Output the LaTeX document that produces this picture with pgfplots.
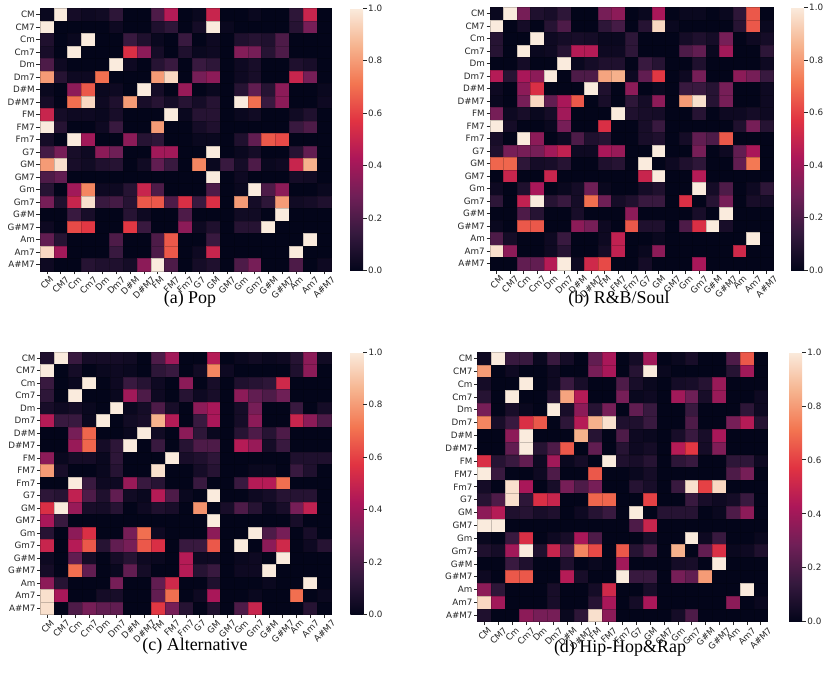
\documentclass[border=0pt]{standalone}
\usepackage{graphicx}
\usepackage{fontspec}
\setmainfont{DejaVu Sans}
\newfontfamily\capfont{Liberation Serif}
\usepackage{pgfplots}
\usepackage{pgfplotstable}
\pgfplotsset{compat=1.18}

\pgfplotsset{colormap={rocket}{rgb255=(3,5,26) rgb255=(53,25,62) rgb255=(112,31,87) rgb255=(173,23,89) rgb255=(225,51,66) rgb255=(243,118,81) rgb255=(246,180,143) rgb255=(250,235,221)}}

\newcommand\rl[1]{\rotatebox{45}{#1}}

% Pop
\pgfplotstableread[row sep=\\, header=false]{
0.02\\1.0\\0.05\\0.03\\0.04\\0.12\\0\\0\\0.2\\0.45\\0\\0.02\\0.5\\0\\0\\0.02\\0\\0\\0.12\\0.5\\0\\
1.0\\0\\0\\0\\0\\0.03\\0\\0\\0.08\\0.12\\0\\0.05\\1.0\\0.02\\0\\0\\0\\0\\0.1\\0.3\\0\\
0.08\\0\\0.02\\1.0\\0\\0\\0.15\\0.08\\0.02\\0\\0.15\\0\\0.03\\0\\0.08\\0.1\\0.08\\0.2\\0\\0\\0\\
0.06\\0\\1.0\\0\\0\\0\\0.55\\0.35\\0.05\\0\\0.08\\0.02\\0.03\\0\\0.33\\0.3\\0.1\\0.2\\0\\0\\0\\
0.2\\0.03\\0\\0\\0\\1.0\\0.03\\0\\0.1\\0.15\\0\\0.15\\0.12\\0\\0.03\\0.06\\0\\0\\0.08\\0.06\\0\\
0.8\\0.1\\0.03\\0.03\\0.7\\0\\0\\0\\0.8\\0.95\\0\\0.3\\0.35\\0\\0.03\\0.06\\0\\0\\0.5\\0.3\\0\\
0.02\\0\\0.35\\0.65\\0.02\\0.03\\0\\1.0\\0.05\\0\\0.38\\0\\0.02\\0\\0.1\\0.25\\0.1\\0.35\\0\\0\\0.02\\
0.05\\0\\0.7\\0.95\\0.03\\0.08\\0.8\\0.06\\0.1\\0.05\\0.1\\0.05\\0.1\\0\\1.0\\0.7\\0.15\\0.35\\0\\0\\0.03\\
0.5\\0.05\\0.03\\0.03\\0.02\\0.06\\0\\0\\0\\1.0\\0.02\\0.1\\0.1\\0\\0.02\\0.04\\0\\0\\0.04\\0.08\\0\\
1.0\\0.1\\0\\0\\0.03\\0.15\\0\\0\\0.8\\0\\0\\0.05\\0.08\\0\\0\\0\\0\\0\\0.15\\0.2\\0\\
0.05\\0\\1.0\\0.4\\0\\0\\0.35\\0.1\\0.12\\0\\0\\0.02\\0.02\\0\\0.08\\0.25\\0.65\\0.62\\0\\0\\0\\
0.18\\0.3\\0.06\\0.03\\0.35\\0.28\\0\\0\\0.4\\0.4\\0\\0\\1.0\\0\\0.02\\0.05\\0\\0\\0.1\\0.25\\0\\
0.8\\0.97\\0.06\\0.04\\0.08\\0.1\\0\\0.04\\0.25\\0.15\\0\\0.75\\0.02\\0.15\\0.05\\0.2\\0.02\\0.03\\0.5\\0.85\\0\\
0.2\\0.25\\0\\0\\0\\0\\0\\0\\0\\0\\0\\0\\1.0\\0\\0.03\\0\\0\\0\\0.05\\0.04\\0\\
0.1\\0\\0.4\\0.75\\0.03\\0.03\\0.1\\0.5\\0.2\\0\\0\\0\\0.2\\0\\0.02\\1.0\\0.2\\0.35\\0\\0\\0.02\\
0.3\\0.08\\0.5\\0.97\\0.15\\0.18\\0.1\\0.65\\0.65\\0.2\\0.55\\0.15\\0.55\\0\\0.8\\0.05\\0.12\\0.8\\0.04\\0.05\\0.08\\
0\\0\\0.15\\0.06\\0\\0\\0.1\\0.03\\0\\0\\0.2\\0\\0\\0\\0.04\\0.04\\0\\1.0\\0\\0\\0\\
0.03\\0\\0.62\\0.58\\0\\0\\0.58\\0.15\\0\\0\\0.35\\0.03\\0.08\\0\\0.1\\0.1\\1.0\\0\\0\\0\\0\\
0.25\\0.1\\0\\0\\0\\0.2\\0\\0\\0.2\\0.65\\0\\0\\0.15\\0\\0\\0\\0\\0\\0\\1.0\\0\\
0.95\\0.4\\0\\0\\0\\0.15\\0\\0\\0.2\\0.65\\0\\0.03\\0.5\\0\\0\\0\\0\\0\\1.0\\0\\0\\
0.03\\0\\0\\0.1\\0.08\\0.08\\0.05\\0.35\\1.0\\0.2\\0\\0.05\\0.08\\0\\0.2\\0.3\\0\\0\\0.2\\0\\0.03\\
}\popdata

% R&B
\pgfplotstableread[row sep=\\, header=false]{
0.02\\1.0\\0.3\\0.08\\0.06\\0.12\\0\\0\\0.3\\0.35\\0\\0.02\\0.42\\0\\0.02\\0.02\\0\\0.02\\0.12\\0.65\\0\\
1.0\\0\\0.05\\0\\0.1\\0.2\\0\\0\\0.12\\0.18\\0\\0.1\\0.95\\0.02\\0\\0\\0\\0\\0.1\\0.65\\0.02\\
0.1\\0\\0\\1.0\\0.03\\0.05\\0.06\\0.05\\0.02\\0.02\\0.12\\0\\0\\0\\0.05\\0.08\\0.05\\0.3\\0\\0.03\\0.05\\
0.1\\0\\1.0\\0.02\\0.03\\0.1\\0.45\\0.45\\0.03\\0.03\\0.12\\0\\0\\0\\0.2\\0.25\\0.02\\0.4\\0\\0\\0.12\\
0\\0\\0.05\\0\\0\\1.0\\0.02\\0.05\\0.08\\0.08\\0\\0.15\\0.1\\0\\0\\0.08\\0\\0\\0\\0\\0.03\\
0.45\\0.1\\0.42\\0.35\\1.0\\0\\0.2\\0.2\\0.82\\0.85\\0.03\\0.25\\0.58\\0\\0.03\\0.3\\0\\0\\0.35\\0.3\\0.15\\
0.03\\0\\0.35\\0.55\\0\\0\\0\\1.0\\0.08\\0\\0.35\\0\\0.02\\0\\0.15\\0.15\\0.1\\0.3\\0\\0\\0.03\\
0.02\\0\\0.3\\0.95\\0.25\\0.42\\0.65\\0\\0.06\\0\\0.12\\0.05\\0.35\\0\\0.8\\0.97\\0.1\\0.3\\0\\0\\0.03\\
0.3\\0.03\\0.06\\0.02\\0.05\\0.4\\0\\0\\0\\1.0\\0.08\\0.06\\0.05\\0\\0\\0.1\\0\\0.03\\0.03\\0.05\\0.03\\
1.0\\0.05\\0\\0\\0.02\\0.3\\0\\0\\0.55\\0\\0\\0.06\\0.15\\0\\0\\0\\0\\0\\0.08\\0.3\\0.1\\
0.06\\0\\1.0\\0.35\\0\\0.03\\0.2\\0.08\\0.1\\0\\0\\0.06\\0.08\\0\\0.05\\0.25\\0.2\\0.65\\0\\0\\0\\
0.08\\0.3\\0.3\\0.3\\0.4\\0.48\\0.03\\0.03\\0.42\\0.38\\0\\0\\1.0\\0\\0\\0.3\\0\\0.03\\0.25\\0.42\\0\\
0.68\\0.68\\0.12\\0.05\\0.06\\0.1\\0\\0\\0.08\\0.1\\0\\1.0\\0\\0.03\\0.08\\0.12\\0\\0\\0.25\\0.72\\0\\
0\\0.5\\0\\0\\0.5\\0\\0\\0\\0\\0\\0\\0.5\\1.0\\0\\0\\0.45\\0\\0\\0\\0\\0\\
0.03\\0\\0.08\\0.42\\0\\0.02\\0.05\\0.28\\0.02\\0\\0\\0.05\\0.08\\0\\0\\1.0\\0.05\\0.2\\0\\0.03\\0.12\\
0.12\\0\\0.48\\1.0\\0.1\\0.15\\0.05\\0.7\\0.28\\0.05\\0.08\\0.15\\0.15\\0\\0.55\\0\\0.1\\0.3\\0\\0.06\\0.05\\
0\\0\\0.2\\0.1\\0\\0\\0.06\\0\\0\\0\\0.35\\0\\0\\0\\0\\0.06\\0\\1.0\\0\\0\\0\\
0.02\\0\\0.65\\0.65\\0\\0\\0.35\\0.3\\0.03\\0\\0.65\\0.08\\0.08\\0\\0.2\\0.55\\1.0\\0.06\\0\\0\\0\\
0.2\\0.05\\0\\0\\0.03\\0.15\\0\\0\\0.03\\0.48\\0\\0\\0.02\\0\\0\\0\\0\\0\\0\\1.0\\0\\
0.97\\0.35\\0\\0\\0.03\\0.1\\0\\0\\0.05\\0.48\\0\\0.02\\0.35\\0\\0\\0\\0\\0\\0.52\\0\\0\\
0\\0\\0.25\\0.25\\0.45\\1.0\\0.03\\0.52\\0.62\\0\\0\\0.05\\0\\0\\0\\0.42\\0\\0\\0\\0\\0\\
}\rbdata

% Alternative
\pgfplotstableread[row sep=\\, header=false]{
0.08\\1.0\\0.15\\0.05\\0.05\\0.05\\0.04\\0\\0.2\\0.4\\0\\0\\0.45\\0\\0.02\\0.04\\0.02\\0.03\\0.1\\0.35\\0.04\\
1.0\\0\\0.05\\0\\0.02\\0.03\\0.02\\0\\0.12\\0.15\\0\\0.04\\0.75\\0.03\\0\\0\\0\\0\\0.08\\0.35\\0\\
0.15\\0\\0.02\\1.0\\0\\0.03\\0.15\\0.1\\0.03\\0\\0.35\\0\\0.06\\0\\0.08\\0.1\\0.12\\0.52\\0\\0\\0\\
0.12\\0\\1.0\\0\\0\\0.02\\0.4\\0.2\\0.03\\0\\0.1\\0.03\\0.06\\0\\0.35\\0.25\\0.2\\0.28\\0\\0\\0\\
0.06\\0.03\\0.05\\0.02\\0\\1.0\\0.02\\0.05\\0.2\\0.06\\0\\0.35\\0.42\\0\\0.05\\0.3\\0\\0\\0.15\\0\\0.05\\
0.45\\0.15\\0.15\\0.02\\1.0\\0\\0.04\\0.06\\0.85\\0.45\\0\\0.15\\0.42\\0\\0.05\\0.35\\0\\0\\0.5\\0.35\\0.2\\
0\\0\\0.3\\0.68\\0\\0\\0.02\\1.0\\0.04\\0\\0.35\\0.12\\0.02\\0\\0.1\\0.2\\0.1\\0.2\\0\\0\\0\\
0\\0\\0.38\\0.68\\0.05\\0.12\\1.0\\0\\0.15\\0\\0.1\\0.2\\0.2\\0\\0.45\\0.38\\0.05\\0.15\\0\\0\\0\\
0.35\\0.02\\0.05\\0.05\\0.02\\0.12\\0\\0\\0\\1.0\\0.06\\0.08\\0.12\\0\\0\\0\\0\\0\\0.08\\0.08\\0.08\\
0.8\\0.06\\0\\0\\0.02\\0.1\\0\\0\\0.97\\0\\0\\0.05\\0.1\\0\\0\\0.02\\0.02\\0\\0.15\\0.08\\0\\
0\\0\\1.0\\0.15\\0.03\\0.03\\0.38\\0.15\\0.1\\0\\0\\0.15\\0\\0\\0.15\\0.45\\0.45\\0.7\\0\\0\\0\\
0.12\\0.1\\0.48\\0.2\\0.08\\0.25\\0.04\\0.02\\0.45\\0.2\\0.02\\0\\1.0\\0\\0\\0.03\\0.05\\0.1\\0.1\\0.1\\0\\
0.55\\1.0\\0.38\\0.06\\0.05\\0.1\\0\\0.03\\0.08\\0.06\\0\\0.78\\0\\0.06\\0.2\\0.1\\0.02\\0.06\\0.3\\0.48\\0\\
0.42\\0.15\\0\\0\\0\\0\\0\\0\\0\\0\\0\\0\\1.0\\0\\0\\0\\0\\0\\0.06\\0\\0\\
0.1\\0\\0.35\\0.55\\0\\0\\0.3\\0.7\\0.03\\0\\0\\0\\0.35\\0\\0\\1.0\\0.2\\0.3\\0\\0.06\\0\\
0.5\\0\\0.45\\0.65\\0.1\\0.25\\0.3\\0.65\\0.55\\0\\0.15\\0.15\\0.65\\0\\1.0\\0\\0.35\\0.52\\0\\0.03\\0.1\\
0.03\\0\\0.25\\0.05\\0\\0.05\\0.1\\0.03\\0.02\\0\\0.45\\0.03\\0.03\\0\\0.02\\0.03\\0\\1.0\\0\\0\\0\\
0.05\\0\\0.7\\0.25\\0\\0.02\\0.25\\0.05\\0\\0\\0.45\\0.1\\0.15\\0\\0.03\\0.03\\1.0\\0\\0\\0\\0\\
0.35\\0.1\\0\\0\\0\\0.3\\0\\0\\0.25\\0.52\\0\\0\\0.08\\0\\0\\0\\0.02\\0\\0\\1.0\\0\\
0.97\\0.42\\0\\0\\0.05\\0.06\\0\\0\\0.25\\0.7\\0\\0.03\\0.42\\0\\0\\0.02\\0\\0\\0.7\\0\\0.02\\
0.97\\0\\0.2\\0.3\\0.25\\0.25\\0\\0\\0.58\\0.3\\0.1\\0\\0.08\\0\\0.2\\0.5\\0\\0\\0\\0.1\\0\\
}\altdata

% Hip-Hop & Rap
\pgfplotstableread[row sep=\\, header=false]{
0.03\\1.0\\0.15\\0.15\\0.02\\0.15\\0.05\\0\\0.25\\0.42\\0\\0.05\\0.4\\0\\0.02\\0.06\\0\\0\\0.2\\0.65\\0\\
0.8\\0\\0.03\\0\\0\\0.03\\0\\0\\0.3\\0.42\\0\\0.1\\1.0\\0.02\\0\\0\\0\\0\\0.1\\0.4\\0\\
0.05\\0\\0\\1.0\\0\\0.03\\0.15\\0.06\\0\\0\\0.2\\0.06\\0.02\\0\\0.05\\0.06\\0.1\\0.38\\0\\0\\0\\
0.1\\0\\1.0\\0\\0\\0.1\\0.82\\0.45\\0\\0\\0.3\\0.02\\0.03\\0\\0.4\\0.28\\0.06\\0.38\\0\\0\\0.03\\
0.3\\0\\0.06\\0.02\\0\\1.0\\0.06\\0.35\\0.1\\0.3\\0\\0.25\\0.15\\0\\0\\0.15\\0\\0\\0\\0.12\\0.03\\
0.75\\0.06\\0.15\\0.55\\0.65\\0\\0.12\\0.45\\0.85\\0.97\\0.08\\0.08\\0.15\\0\\0\\0.2\\0\\0\\0.3\\0.45\\0.1\\
0\\0\\0.35\\1.0\\0\\0\\0\\0.85\\0.1\\0\\0.2\\0.03\\0.02\\0\\0.06\\0.15\\0.06\\0.42\\0\\0\\0\\
0\\0\\0.25\\1.0\\0.1\\0.2\\0.65\\0\\0.25\\0\\0.1\\0.03\\0.05\\0\\0.45\\0.58\\0.05\\0.32\\0\\0\\0\\
0.55\\0.1\\0.15\\0.25\\0.03\\0.4\\0.02\\0.05\\0\\1.0\\0.08\\0.06\\0.1\\0\\0.12\\0.15\\0\\0\\0.12\\0.12\\0.03\\
1.0\\0.15\\0\\0\\0.03\\0.2\\0\\0\\0.65\\0\\0\\0.02\\0.05\\0\\0\\0\\0\\0\\0.2\\0.3\\0\\
0.05\\0\\0.97\\0.42\\0\\0.06\\0.3\\0.2\\0.3\\0\\0\\0.1\\0.06\\0\\0.15\\0.97\\0.6\\0.95\\0\\0\\0\\
0.1\\0.2\\0.97\\0.12\\0.55\\0.5\\0\\0\\0.68\\0.68\\0\\0\\0.6\\0\\0\\0.15\\0.06\\0.03\\0.05\\0.15\\0\\
0.35\\0.45\\0.08\\0.1\\0.06\\0.08\\0\\0.03\\0.1\\0.15\\0\\1.0\\0\\0.1\\0.1\\0.1\\0\\0.02\\0.2\\0.35\\0\\
1.0\\1.0\\0\\0\\0\\0\\0\\0\\0\\0\\0\\0.2\\0.5\\0\\0\\0\\0\\0\\0\\0\\0\\
0.02\\0\\0.15\\0.55\\0\\0.03\\0.06\\0.42\\0.2\\0\\0\\0\\0.06\\0\\0\\1.0\\0.03\\0.15\\0\\0\\0.02\\
0.08\\0.05\\0.4\\1.0\\0.08\\0.5\\0.2\\0.75\\0.62\\0\\0.65\\0.1\\0.2\\0\\0.85\\0\\0.25\\0.55\\0.02\\0.03\\0.08\\
0\\0\\0.15\\0.08\\0\\0\\0.08\\0\\0.02\\0\\0.4\\0\\0\\0\\0.05\\0.06\\0\\1.0\\0\\0\\0\\
0.03\\0\\0.65\\0.65\\0\\0\\0.45\\0.06\\0\\0\\1.0\\0.15\\0.15\\0\\0.3\\0.25\\0.8\\0\\0\\0\\0\\
0.35\\0.12\\0\\0\\0\\0.06\\0\\0\\0.05\\0.52\\0\\0\\0.06\\0\\0\\0\\0\\0\\0\\1.0\\0\\
0.95\\0.4\\0\\0\\0\\0.06\\0\\0\\0.1\\0.42\\0\\0.05\\0.42\\0\\0\\0\\0\\0\\0.35\\0\\0.02\\
0.08\\0\\0\\0.35\\0.3\\0.3\\0.02\\0.12\\0.97\\0.35\\0\\0\\0\\0\\0.05\\0.2\\0\\0\\0\\0\\0\\
}\hhdata

\pgfplotsset{
  hm/.style={
    scale only axis,
    xmin=-0.5, xmax=20.5, ymin=-0.5, ymax=20.5,
    enlargelimits=false,
    axis line style={draw=none},
    xtick={0,...,20}, ytick={0,...,20},
    xticklabels={\rl{CM},\rl{CM7},\rl{Cm},\rl{Cm7},\rl{Dm},\rl{Dm7},\rl{D\#M},\rl{D\#M7},\rl{FM},\rl{FM7},\rl{Fm7},\rl{G7},\rl{GM},\rl{GM7},\rl{Gm},\rl{Gm7},\rl{G\#M},\rl{G\#M7},\rl{Am},\rl{Am7},\rl{A\#M7}},
    yticklabels={A\#M7,Am7,Am,G\#M7,G\#M,Gm7,Gm,GM7,GM,G7,Fm7,FM7,FM,D\#M7,D\#M,Dm7,Dm,Cm7,Cm,CM7,CM},
    tick align=outside, xtick pos=bottom, ytick pos=left,
    major tick length=3.5bp,
    tick style={black!85, line width=0.8bp},
    ticklabel style={font=\fontsize{8.8}{10}\selectfont, text=black!85},
    xticklabel style={anchor=north, inner sep=1.2bp},
    yticklabel style={anchor=east, inner sep=1.5bp},
    colormap name=rocket, point meta min=0, point meta max=1,
    colorbar,
    colorbar style={
      at={(parent axis.north east)}, anchor=north west,
      width=13bp, scale only axis,
      axis line style={draw=none},
      ytick={0,0.2,0.4,0.6,0.8,1},
      ytick pos=right, yticklabel pos=right,
      tick align=outside, major tick length=3.5bp,
      tick style={black!85, line width=0.8bp},
      yticklabel style={font=\fontsize{8.8}{10}\selectfont, text=black!85, anchor=west, inner sep=1.5bp,
        /pgf/number format/fixed, /pgf/number format/fixed zerofill, /pgf/number format/precision=1,
        /pgf/number format/assume math mode=true},
    },
  },
  hmplot/.style 2 args={scatter, only marks, mark=square*, scatter src=explicit,
    mark size=#1, every mark/.append style={xscale=#2, line width=0.5bp}},
}

\begin{document}
\begin{tikzpicture}
\useasboundingbox (0,0) rectangle (830bp,-690bp);

\begin{axis}[hm, at={(40bp,-8.3bp)}, anchor=north west, width=291bp, height=262.5bp,
  colorbar style={xshift=10.5bp}]
\addplot[hmplot={6.25bp}{1.1086}] table[x index=0, y index=0, meta index=0, x expr={\coordindex-21*floor((\coordindex+0.5)/21)}, y expr={20-floor((\coordindex+0.5)/21)}] {\popdata};
\end{axis}

\begin{axis}[hm, at={(490bp,-7.5bp)}, anchor=north west, width=283.5bp, height=262.5bp,
  colorbar style={xshift=9bp}]
\addplot[hmplot={6.25bp}{1.08}] table[x index=0, y index=0, meta index=0, x expr={\coordindex-21*floor((\coordindex+0.5)/21)}, y expr={20-floor((\coordindex+0.5)/21)}] {\rbdata};
\end{axis}

\begin{axis}[hm, at={(40.7bp,-352bp)}, anchor=north west, width=290.6bp, height=262.5bp,
  colorbar style={xshift=10.5bp}]
\addplot[hmplot={6.25bp}{1.107}] table[x index=0, y index=0, meta index=0, x expr={\coordindex-21*floor((\coordindex+0.5)/21)}, y expr={20-floor((\coordindex+0.5)/21)}] {\altdata};
\end{axis}

\begin{axis}[hm, at={(477.7bp,-352bp)}, anchor=north west, width=290bp, height=269.7bp,
  colorbar style={xshift=13bp}]
\addplot[hmplot={6.42bp}{1.075}] table[x index=0, y index=0, meta index=0, x expr={\coordindex-21*floor((\coordindex+0.5)/21)}, y expr={20-floor((\coordindex+0.5)/21)}] {\hhdata};
\end{axis}

\node[font=\capfont\fontsize{18}{20}\selectfont] at (190bp,-299bp) {(a) Pop};
\node[font=\capfont\fontsize{18}{20}\selectfont] at (619bp,-299bp) {(b) R\&B/Soul};
\node[font=\capfont\fontsize{18}{20}\selectfont] at (195bp,-646bp) {(c) Alternative};
\node[font=\capfont\fontsize{18}{20}\selectfont] at (620bp,-648bp) {(d) Hip-Hop\&Rap};
\end{tikzpicture}
\end{document}
